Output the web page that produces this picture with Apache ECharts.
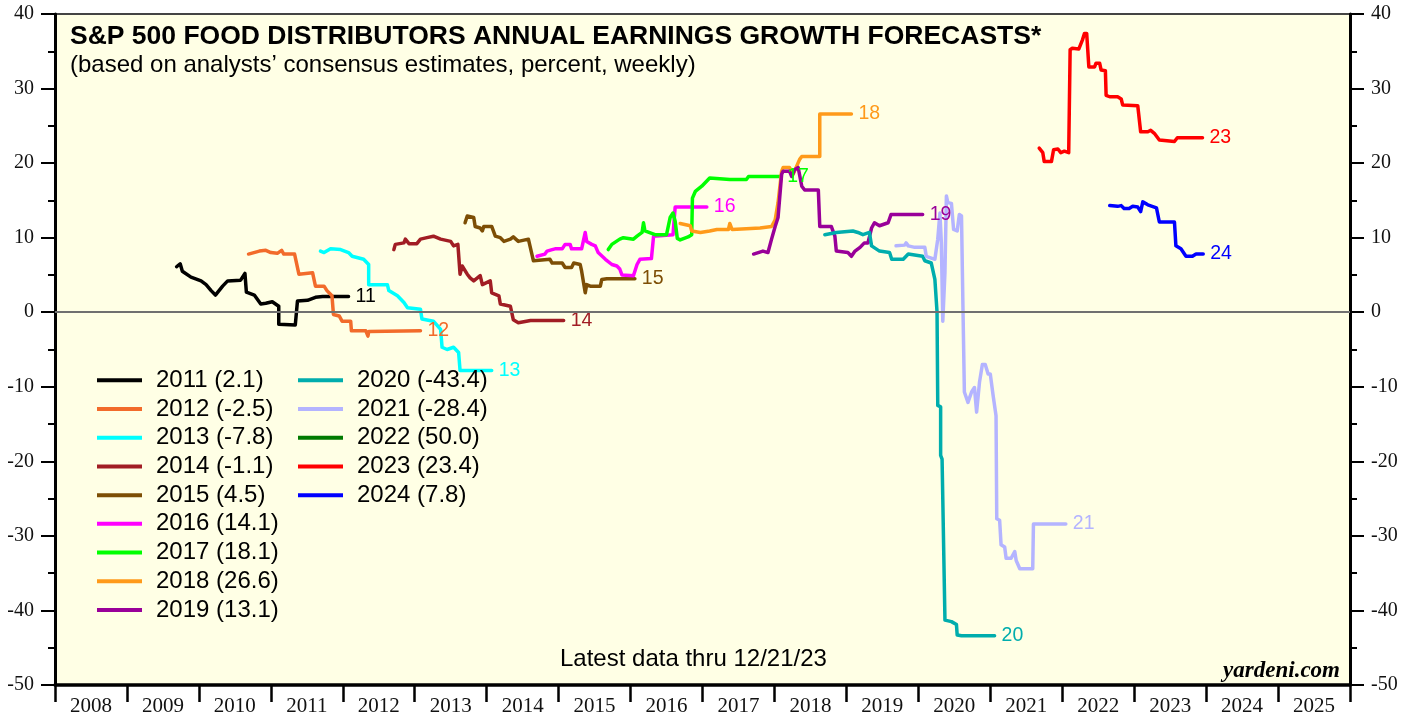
<!DOCTYPE html>
<html>
<head>
<meta charset="utf-8">
<script src="https://cdn.jsdelivr.net/npm/echarts@6/dist/echarts.min.js"></script>
<style>
  html, body { margin: 0; padding: 0; background: #fff; }
  #chart { width: 1418px; height: 717px; }
</style>
</head>
<body>
<div id="chart"></div>
<script>
// year labels on the bottom axis (centred between year ticks)
const yearLabels = ['2008', '2009', '2010', '2011', '2012', '2013', '2014', '2015', '2016',
  '2017', '2018', '2019', '2020', '2021', '2022', '2023', '2024', '2025']

// weekly forecasts, [decimal year, percent]
const s2011 = [[2009.69, 6.1], [2009.74, 6.5], [2009.77, 5.5], [2009.89, 4.7], [2010.03, 4.2], [2010.10, 3.7], [2010.17, 2.9], [2010.23, 2.3], [2010.33, 3.5], [2010.40, 4.2], [2010.58, 4.3], [2010.64, 5.2], [2010.66, 2.7], [2010.77, 2.3], [2010.86, 1.1], [2010.93, 1.2], [2011.02, 1.4], [2011.11, 0.8], [2011.11, -1.6], [2011.34, -1.7], [2011.37, 1.5], [2011.51, 1.6], [2011.62, 2.0], [2011.72, 2.1], [2012.08, 2.1]]
const s2012 = [[2010.69, 7.8], [2010.84, 8.2], [2010.93, 8.3], [2011.00, 8.0], [2011.09, 7.9], [2011.15, 8.3], [2011.18, 7.8], [2011.33, 7.8], [2011.39, 5.1], [2011.58, 5.3], [2011.62, 3.5], [2011.74, 3.5], [2011.78, 2.9], [2011.85, 2.2], [2011.87, -0.3], [2011.95, -0.5], [2011.99, -1.2], [2012.11, -1.2], [2012.12, -2.5], [2012.32, -2.5], [2012.35, -3.2], [2012.36, -2.6], [2013.08, -2.5]]
const s2013 = [[2011.69, 8.2], [2011.74, 8.0], [2011.83, 8.5], [2011.97, 8.4], [2012.08, 8.0], [2012.13, 7.5], [2012.29, 7.1], [2012.36, 6.4], [2012.36, 3.7], [2012.62, 3.7], [2012.64, 2.9], [2012.76, 2.2], [2012.85, 1.3], [2012.90, 0.6], [2013.08, 0.4], [2013.10, -0.9], [2013.26, -1.2], [2013.36, -2.3], [2013.38, -4.7], [2013.45, -5.0], [2013.54, -4.7], [2013.61, -5.4], [2013.63, -7.8], [2014.07, -7.8]]
const s2014 = [[2012.71, 8.4], [2012.73, 9.1], [2012.85, 9.3], [2012.87, 9.8], [2012.92, 9.2], [2013.03, 9.2], [2013.08, 9.8], [2013.17, 10.0], [2013.26, 10.2], [2013.36, 9.8], [2013.50, 9.5], [2013.54, 8.9], [2013.60, 9.1], [2013.63, 5.1], [2013.66, 6.2], [2013.73, 5.1], [2013.77, 4.6], [2013.82, 4.2], [2013.91, 4.9], [2013.94, 3.7], [2014.05, 4.2], [2014.07, 2.6], [2014.17, 2.2], [2014.19, 1.1], [2014.33, 0.8], [2014.37, -1.0], [2014.44, -1.4], [2014.61, -1.1], [2015.07, -1.1]]
const s2015 = [[2013.70, 12.0], [2013.73, 12.9], [2013.82, 12.7], [2013.84, 11.5], [2013.91, 11.3], [2013.94, 10.9], [2013.96, 11.5], [2014.07, 11.5], [2014.12, 10.2], [2014.19, 10.0], [2014.24, 9.5], [2014.33, 9.8], [2014.37, 10.1], [2014.44, 9.5], [2014.58, 9.8], [2014.65, 6.9], [2014.88, 7.1], [2014.91, 6.6], [2015.05, 6.6], [2015.09, 6.0], [2015.18, 6.0], [2015.21, 6.6], [2015.30, 6.4], [2015.32, 5.5], [2015.37, 2.6], [2015.39, 3.7], [2015.44, 3.5], [2015.58, 3.5], [2015.60, 4.4], [2015.67, 4.5], [2016.06, 4.5]]
const s2016 = [[2014.70, 7.5], [2014.81, 7.8], [2014.84, 8.2], [2014.91, 8.4], [2014.95, 8.5], [2015.05, 8.5], [2015.09, 9.1], [2015.16, 9.1], [2015.18, 8.5], [2015.32, 8.5], [2015.37, 10.7], [2015.39, 9.5], [2015.46, 9.1], [2015.51, 8.9], [2015.55, 8.0], [2015.65, 7.1], [2015.74, 6.4], [2015.81, 6.2], [2015.85, 5.8], [2015.88, 5.0], [2016.04, 4.9], [2016.09, 6.4], [2016.13, 7.1], [2016.29, 7.2], [2016.32, 10.2], [2016.34, 10.4], [2016.59, 10.4], [2016.62, 14.1], [2017.06, 14.1]]
const s2017 = [[2015.69, 8.4], [2015.74, 9.1], [2015.85, 9.8], [2015.90, 10.0], [2016.04, 9.8], [2016.09, 10.2], [2016.16, 10.7], [2016.18, 12.0], [2016.20, 10.9], [2016.34, 10.4], [2016.50, 10.4], [2016.55, 12.7], [2016.59, 13.3], [2016.62, 12.2], [2016.65, 9.9], [2016.69, 9.7], [2016.80, 10.1], [2016.85, 10.4], [2016.86, 15.3], [2016.90, 16.2], [2016.99, 16.9], [2017.10, 18.0], [2017.38, 17.8], [2017.61, 17.8], [2017.64, 18.2], [2018.08, 18.2]]
const s2018 = [[2016.69, 11.9], [2016.83, 11.6], [2016.85, 10.9], [2016.97, 10.7], [2017.10, 10.9], [2017.20, 11.1], [2017.36, 11.1], [2017.38, 11.9], [2017.41, 11.1], [2017.61, 11.2], [2017.80, 11.3], [2017.96, 11.5], [2018.01, 12.4], [2018.05, 14.7], [2018.10, 18.9], [2018.12, 19.4], [2018.21, 19.4], [2018.26, 18.5], [2018.35, 20.5], [2018.38, 20.9], [2018.63, 20.9], [2018.63, 26.6], [2019.07, 26.6]]
const s2019 = [[2017.71, 7.8], [2017.84, 8.2], [2017.91, 8.0], [2017.96, 9.8], [2018.01, 11.5], [2018.05, 12.7], [2018.10, 18.5], [2018.12, 18.9], [2018.21, 18.9], [2018.24, 18.2], [2018.28, 19.1], [2018.33, 19.4], [2018.38, 16.9], [2018.42, 16.4], [2018.61, 16.4], [2018.63, 11.5], [2018.79, 11.5], [2018.84, 10.2], [2018.86, 8.2], [2019.02, 8.0], [2019.07, 7.5], [2019.12, 8.2], [2019.19, 8.7], [2019.25, 9.3], [2019.30, 9.3], [2019.35, 11.3], [2019.39, 12.0], [2019.46, 11.6], [2019.58, 12.0], [2019.62, 13.1], [2020.06, 13.1]]
const s2020 = [[2018.70, 10.4], [2018.86, 10.7], [2019.09, 10.9], [2019.16, 10.7], [2019.23, 10.4], [2019.32, 10.7], [2019.35, 8.9], [2019.46, 8.2], [2019.60, 8.0], [2019.63, 7.1], [2019.79, 7.1], [2019.86, 7.8], [2020.06, 7.5], [2020.09, 6.9], [2020.18, 6.6], [2020.23, 4.4], [2020.26, 0.0], [2020.27, -12.5], [2020.31, -12.7], [2020.31, -19.2], [2020.33, -19.7], [2020.37, -41.3], [2020.46, -41.5], [2020.53, -41.9], [2020.54, -43.3], [2020.60, -43.4], [2021.06, -43.4]]
const s2021 = [[2019.69, 8.9], [2019.81, 9.0], [2019.83, 9.3], [2019.86, 8.9], [2019.95, 8.7], [2020.09, 8.7], [2020.11, 7.5], [2020.23, 7.1], [2020.27, 9.8], [2020.30, 13.3], [2020.32, 9.3], [2020.34, -1.2], [2020.37, 5.3], [2020.39, 15.6], [2020.41, 14.7], [2020.46, 14.6], [2020.49, 11.1], [2020.54, 10.9], [2020.57, 13.1], [2020.60, 12.9], [2020.62, 0.8], [2020.64, -10.7], [2020.69, -12.1], [2020.74, -10.7], [2020.78, -10.1], [2020.81, -13.4], [2020.85, -9.4], [2020.89, -7.0], [2020.93, -7.0], [2020.97, -8.3], [2021.00, -8.3], [2021.04, -11.2], [2021.08, -13.9], [2021.09, -27.7], [2021.13, -27.9], [2021.15, -31.2], [2021.20, -31.5], [2021.22, -33.0], [2021.29, -33.0], [2021.34, -32.1], [2021.36, -33.3], [2021.41, -34.4], [2021.59, -34.4], [2021.60, -28.4], [2022.05, -28.4]]
const s2022 = []
const s2023 = [[2021.68, 22.0], [2021.73, 21.4], [2021.75, 20.2], [2021.85, 20.2], [2021.88, 21.8], [2021.94, 21.9], [2021.98, 21.4], [2022.03, 21.6], [2022.09, 21.4], [2022.11, 35.2], [2022.14, 35.4], [2022.23, 35.3], [2022.28, 36.5], [2022.31, 37.4], [2022.34, 37.4], [2022.37, 32.9], [2022.45, 32.9], [2022.47, 33.4], [2022.52, 33.4], [2022.54, 32.5], [2022.60, 32.4], [2022.61, 29.1], [2022.66, 28.9], [2022.77, 28.9], [2022.82, 28.6], [2022.84, 27.8], [2023.05, 27.7], [2023.09, 24.2], [2023.19, 24.2], [2023.23, 24.4], [2023.28, 24.0], [2023.35, 23.1], [2023.37, 22.9], [2023.56, 22.9], [2023.60, 23.4], [2023.95, 23.4]]
const s2024 = [[2022.66, 14.3], [2022.77, 14.2], [2022.82, 14.3], [2022.86, 13.9], [2022.93, 13.9], [2022.98, 14.2], [2023.05, 14.1], [2023.09, 13.5], [2023.12, 14.8], [2023.19, 14.4], [2023.28, 14.1], [2023.31, 14.0], [2023.35, 12.1], [2023.56, 12.1], [2023.58, 8.9], [2023.65, 8.5], [2023.72, 7.5], [2023.81, 7.5], [2023.86, 7.8], [2023.96, 7.8]]

const seriesNames = ['2011 (2.1)', '2012 (-2.5)', '2013 (-7.8)', '2014 (-1.1)', '2015 (4.5)', '2016 (14.1)',
  '2017 (18.1)', '2018 (26.6)', '2019 (13.1)', '2020 (-43.4)', '2021 (-28.4)', '2022 (50.0)', '2023 (23.4)', '2024 (7.8)']
const endTags = ['11', '12', '13', '14', '15', '16', '17', '18', '19', '20', '21', '22', '23', '24']
const seriesData = [s2011, s2012, s2013, s2014, s2015, s2016, s2017, s2018, s2019, s2020, s2021, s2022, s2023, s2024]
const colors = ['#000000', '#F26B2B', '#00FFFF', '#A11D24', '#7D4E05', '#FF00FF', '#00FF00',
  '#FF9A1A', '#990099', '#00ADAD', '#B4B4FF', '#007A00', '#FF0000', '#0000FF']

const sans = "'Liberation Sans', Arial, sans-serif"
const serif = "'Liberation Serif', 'Times New Roman', serif"

const chart = echarts.init(document.getElementById('chart'))

const series = seriesData.map((d, i) => ({
  name: seriesNames[i],
  type: 'line',
  xAxisIndex: 0,
  yAxisIndex: 0,
  data: d,
  showSymbol: false,
  symbol: 'none',
  animation: false,
  color: colors[i],
  lineStyle: { width: 3.5, color: colors[i], join: 'round', cap: 'round' },
  endLabel: {
    show: d.length > 0,
    formatter: () => endTags[i],
    color: colors[i],
    fontFamily: sans,
    fontSize: 19.5,
    distance: 7
  }
}))

// zero line
series[0].markLine = {
  silent: true,
  symbol: 'none',
  label: { show: false },
  lineStyle: { color: '#707070', width: 2, type: 'solid' },
  data: [{ yAxis: 0 }]
}

const yAxisBase = {
  type: 'value',
  min: -50,
  max: 40,
  interval: 10,
  axisLine: { show: true, onZero: false, lineStyle: { color: '#000', width: 3 } },
  axisTick: { show: true, length: 14, lineStyle: { color: '#000', width: 2 } },
  minorTick: { show: true, splitNumber: 2, length: 7, lineStyle: { color: '#000', width: 2 } },
  splitLine: { show: false },
  axisLabel: { color: '#111', fontFamily: serif, fontSize: 20, margin: 21 }
}

const legendBase = {
  orient: 'vertical',
  top: 366,
  padding: 0,
  icon: 'rect',
  itemWidth: 45,
  itemHeight: 4,
  itemGap: 0,
  selectedMode: false,
  textStyle: { fontFamily: sans, fontSize: 24, color: '#000', lineHeight: 28.7, padding: [0, 0, 0, 9] }
}

chart.setOption({
  animation: false,
  backgroundColor: '#ffffff',
  grid: {
    left: 55, right: 68, top: 14, bottom: 31,
    show: true,
    backgroundColor: '#FFFFE5',
    borderColor: '#444',
    borderWidth: 2
  },
  legend: [
    Object.assign({}, legendBase, { left: 97, data: seriesNames.slice(0, 9) }),
    Object.assign({}, legendBase, { left: 298, data: seriesNames.slice(9) })
  ],
  xAxis: [
    {
      type: 'value',
      min: 2008,
      max: 2026,
      show: false
    },
    {
      type: 'category',
      position: 'bottom',
      data: yearLabels,
      boundaryGap: true,
      axisLine: { show: true, onZero: false, lineStyle: { color: '#000', width: 3.5 } },
      axisTick: { show: true, length: 17, alignWithLabel: false, lineStyle: { color: '#000', width: 2.5 } },
      axisLabel: { interval: 0, color: '#111', fontFamily: serif, fontSize: 21, margin: 11 },
      splitLine: { show: false }
    }
  ],
  yAxis: [
    Object.assign({}, yAxisBase, { position: 'left' }),
    Object.assign({}, yAxisBase, { position: 'right' })
  ],
  graphic: [
    {
      type: 'text', left: 70, top: 23,
      style: { text: 'S&P 500 FOOD DISTRIBUTORS ANNUAL EARNINGS GROWTH FORECASTS*', fontFamily: sans, fontWeight: 'bold', fontSize: 26.5, fill: '#000' }
    },
    {
      type: 'text', left: 70, top: 53,
      style: { text: '(based on analysts’ consensus estimates, percent, weekly)', fontFamily: sans, fontSize: 24, fill: '#000' }
    },
    {
      type: 'text', left: 560, top: 647,
      style: { text: 'Latest data thru 12/21/23', fontFamily: sans, fontSize: 24, fill: '#000' }
    },
    {
      type: 'text', right: 78, top: 660,
      style: { text: 'yardeni.com', fontFamily: serif, fontWeight: 'bold', fontStyle: 'italic', fontSize: 23, fill: '#000' }
    }
  ],
  series: series
})
</script>
</body>
</html>
